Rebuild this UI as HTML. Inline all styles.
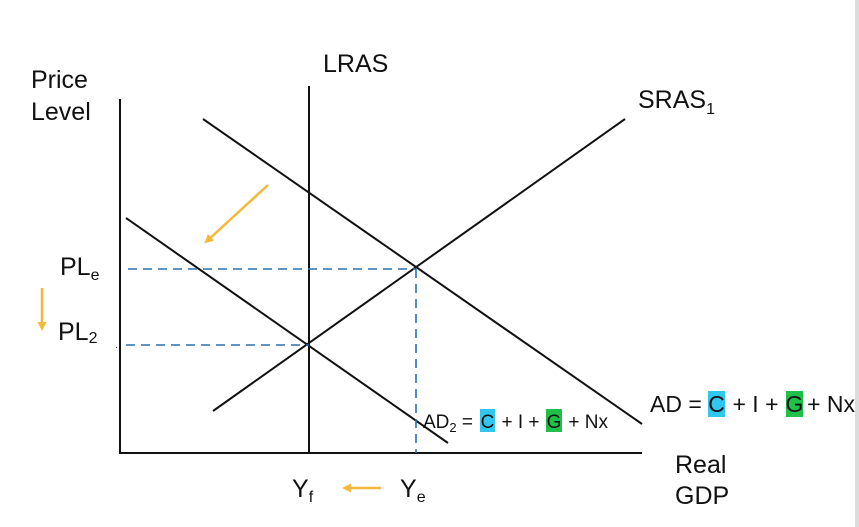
<!DOCTYPE html>
<html><head><meta charset="utf-8"><style>
html,body{margin:0;padding:0;background:#fff;}
svg{display:block;}
text{font-family:"Liberation Sans",Arial,sans-serif;fill:#111;}
</style></head><body>
<svg width="859" height="527" viewBox="0 0 859 527" xmlns="http://www.w3.org/2000/svg">
<defs>
<marker id="ah" markerWidth="9" markerHeight="9" refX="4" refY="4.5" orient="auto" markerUnits="userSpaceOnUse">
<path d="M0,0 L9,4.5 L0,9 Z" fill="#f5b83a"/>
</marker>
</defs>
<rect x="855" y="0" width="4" height="527" fill="#dcdcdc"/>
<g stroke="#111" stroke-width="2" fill="none">
<line x1="120" y1="99" x2="120" y2="454"/>
<line x1="119" y1="453" x2="642" y2="453"/>
<line x1="309" y1="86" x2="309" y2="454"/>
<line x1="213" y1="411" x2="625" y2="119"/>
<line x1="203" y1="119" x2="642" y2="424"/>
<line x1="126" y1="218" x2="448" y2="443"/>
</g>
<g stroke="#2b6fb0" stroke-width="1.6" stroke-dasharray="9,6" fill="none">
<line x1="128" y1="269" x2="416" y2="269"/>
<line x1="416" y1="269" x2="416" y2="453"/>
<line x1="126" y1="345" x2="309" y2="345"/>
</g>
<g stroke="#f5b83a" stroke-width="2.5" fill="none">
<line x1="268" y1="185" x2="208" y2="240" marker-end="url(#ah)"/>
<line x1="42" y1="288" x2="42" y2="326" marker-end="url(#ah)"/>
<line x1="381" y1="488" x2="347" y2="488" marker-end="url(#ah)"/>
</g>
<g font-size="25">
<text x="31" y="88">Price</text>
<text x="31" y="120">Level</text>
<text x="323" y="72">LRAS</text>
<text x="638" y="108">SRAS<tspan font-size="16" dy="6">1</tspan></text>
<text x="60" y="275">PL<tspan font-size="16" dy="5">e</tspan></text>
<text x="58" y="340">PL<tspan font-size="16" dy="3">2</tspan></text>
<text x="292" y="497">Y<tspan font-size="16" dy="5">f</tspan></text>
<text x="400" y="497">Y<tspan font-size="16" dy="5">e</tspan></text>
<text x="675" y="473">Real</text>
<text x="675" y="504">GDP</text>
</g>
<text x="115" y="348" font-size="10">.</text>
<rect x="480" y="409" width="15" height="23" fill="#31c6ee"/>
<rect x="546" y="409" width="16" height="23" fill="#1ec04a"/>
<g font-size="19">
<text x="423" y="428">AD<tspan font-size="13" dy="4">2</tspan><tspan dy="-4"> =</tspan></text>
<text x="487.5" y="428" text-anchor="middle">C</text>
<text x="520.5" y="428" text-anchor="middle">+ I +</text>
<text x="554" y="428" text-anchor="middle">G</text>
<text x="608" y="428" text-anchor="end">+ Nx</text>
</g>
<rect x="708" y="391" width="17" height="26" fill="#31c6ee"/>
<rect x="786" y="391" width="17" height="26" fill="#1ec04a"/>
<g font-size="23">
<text x="650" y="412">AD =</text>
<text x="716.5" y="412" text-anchor="middle">C</text>
<text x="755.5" y="412" text-anchor="middle">+ I +</text>
<text x="794.5" y="412" text-anchor="middle">G</text>
<text x="855" y="412" text-anchor="end">+ Nx</text>
</g>
</svg>
</body></html>
